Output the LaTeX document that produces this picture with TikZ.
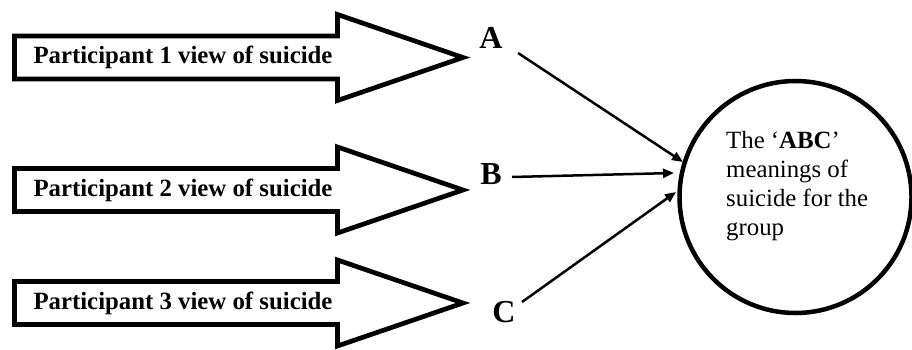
\documentclass[tikz,border=0pt]{standalone}
\usepackage{fontspec}
\setmainfont{Liberation Serif}
\usetikzlibrary{arrows.meta}
\tikzset{
  bigarrow/.style={draw=black, line width=4.7pt, fill=white, miter limit=10},
  ptext/.style={font=\bfseries\fontsize{24.8}{29}\selectfont, inner sep=0pt},
  letter/.style={font=\bfseries\fontsize{32}{36}\selectfont, inner sep=0pt},
  conn/.style={draw=black, line width=2.5pt, -{Triangle[length=11pt,width=9pt]}},
  groupcircle/.style={circle, draw=black, line width=4.5pt, minimum size=232pt, inner sep=0pt},
  ctextstyle/.style={font=\fontsize{24.8}{29}\selectfont, align=left, inner sep=0pt}
}
\begin{document}
\begin{tikzpicture}[x=1pt,y=-1pt]
\useasboundingbox (0,0) rectangle (912,350);
% big arrows
\foreach \cy in {57.5,190,303}{
  \draw[bigarrow] (14.5,\cy-21.5) -- (337.5,\cy-21.5) -- (337.5,\cy-43) -- (463,\cy) -- (337.5,\cy+43) -- (337.5,\cy+21.5) -- (14.5,\cy+21.5) -- cycle;
}
\node[ptext] (p1) at (183,57.5) {Participant 1 view of suicide};
\node[ptext] (p2) at (183,190) {Participant 2 view of suicide};
\node[ptext] (p3) at (183,303) {Participant 3 view of suicide};
% letters
\node[letter] (A) at (491,38) {A};
\node[letter] (B) at (491,174) {B};
\node[letter] (C) at (504,312) {C};
% circle
\node[groupcircle] (circ) at (795.5,197) {};
\node[ctextstyle, anchor=north west] (ctext) at (726,131) {The `\textbf{ABC}'\\meanings of\\suicide for the\\group};
% connector ends
\coordinate (sA) at (518,53);
\coordinate (tA) at (683,162);
\coordinate (sB) at (512,177);
\coordinate (tB) at (674,173);
\coordinate (sC) at (522,302);
\coordinate (tC) at (676,192);
\draw[conn] (sA) -- (tA);
\draw[conn] (sB) -- (tB);
\draw[conn] (sC) -- (tC);
\end{tikzpicture}
\end{document}
